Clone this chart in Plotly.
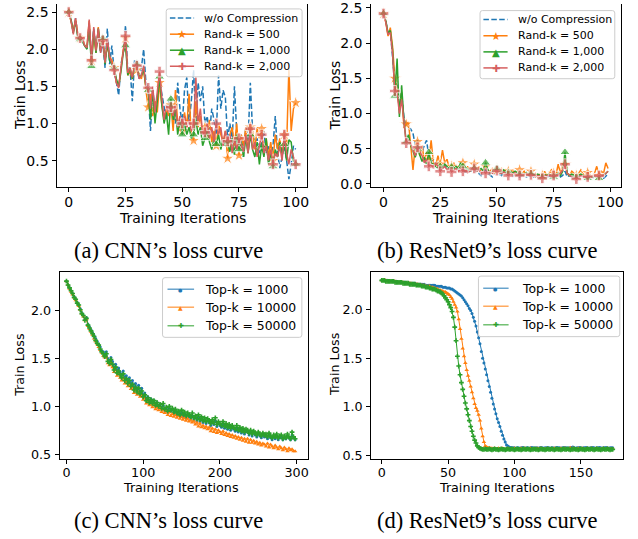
import plotly.graph_objects as go

W, H = 638, 539
BLUE, ORANGE, GREEN, RED = "#1f77b4", "#ff7f0e", "#2ca02c", "#d65f5f"
FONT = "DejaVu Sans"

# ---------------- (a) CNN, Rand-k ----------------
a_labels = ["w/o Compression", "Rand-k = 500", "Rand-k = 1,000", "Rand-k = 2,000"]
a_blue = [2.50, 2.40, 2.22, 2.42, 2.18, 2.15, 2.12, 2.05, 2.00, 2.35,
          1.90, 2.28, 2.00, 2.25, 1.95, 2.10, 1.75, 2.28, 1.80, 2.05,
          1.70, 1.55, 1.38, 1.80, 1.95, 2.32, 1.70, 1.75, 1.30, 1.85,
          1.75, 1.60, 1.75, 2.00, 1.55, 1.45, 0.90, 1.45, 1.20, 1.35,
          1.60, 1.40, 1.20, 1.05, 1.30, 1.20, 1.15, 1.00, 1.55, 1.20,
          1.00, 1.45, 1.62, 1.00, 1.30, 1.72, 1.00, 1.55, 1.30, 1.50,
          1.00, 1.10, 0.85, 1.20, 1.05, 0.85, 1.65, 1.20, 1.45, 1.35,
          0.80, 1.00, 0.75, 1.50, 0.90, 0.60, 0.85, 0.55, 0.95, 0.75,
          1.55, 0.90, 0.70, 0.80, 0.60, 0.75, 0.90, 0.60, 0.70, 0.55,
          0.70, 1.10, 0.60, 0.40, 0.55, 0.70, 0.50, 0.25, 0.45, 0.70,
          0.65]
a_orange = [2.50, 2.38, 2.25, 2.40, 2.20, 2.15, 2.18, 2.05, 2.02, 2.38,
            1.85, 2.20, 1.95, 2.30, 2.00, 2.12, 1.85, 2.05, 1.90, 1.85,
            1.75, 1.55, 1.50, 1.75, 2.00, 2.15, 1.65, 1.70, 1.60, 1.80,
            1.72, 1.65, 1.60, 1.75, 1.45, 1.22, 1.40, 1.10, 1.30, 1.15,
            1.55, 1.25, 1.05, 1.20, 1.10, 1.25, 0.90, 1.45, 1.00, 0.95,
            0.90, 1.15, 0.95, 1.40, 0.85, 0.77, 1.30, 0.95, 1.10, 0.85,
            0.95, 0.80, 1.05, 0.75, 0.90, 0.70, 1.00, 0.85, 0.75, 0.90,
            0.53, 0.85, 0.95, 0.70, 1.00, 0.57, 0.85, 0.70, 0.95, 0.60,
            0.95, 0.90, 0.65, 0.95, 0.80, 0.93, 0.60, 0.80, 0.55, 0.75,
            0.50, 0.85, 0.65, 0.80, 0.55, 0.85, 0.70, 1.75, 0.90, 1.20,
            1.28]
a_green = [2.50, 2.40, 2.22, 2.38, 2.15, 2.14, 2.10, 2.05, 2.00, 2.30,
           1.77, 2.25, 1.95, 2.28, 1.98, 2.15, 1.80, 2.10, 1.85, 1.80,
           1.75, 1.60, 1.50, 1.70, 1.95, 2.05, 1.65, 1.75, 1.60, 1.78,
           1.80, 1.62, 1.65, 1.72, 1.50, 1.45, 1.05, 1.45, 1.00, 1.30,
           1.63, 1.25, 1.00, 1.15, 0.85, 1.33, 1.05, 1.20, 0.85, 1.05,
           0.85, 1.00, 0.85, 0.95, 0.80, 0.85, 1.05, 0.85, 0.95, 0.70,
           0.80, 0.90, 0.75, 0.65, 0.80, 0.72, 0.85, 0.65, 0.80, 0.70,
           0.75, 0.62, 0.80, 0.58, 0.85, 0.65, 0.75, 0.55, 0.80, 0.60,
           0.85, 0.65, 0.55, 0.75, 0.45, 0.70, 0.55, 0.80, 0.45, 0.60,
           0.42, 0.65, 0.55, 0.75, 0.60, 0.72, 0.50, 0.78, 0.75, 0.50,
           0.45]
a_red = [2.50, 2.38, 2.20, 2.42, 2.18, 2.15, 2.15, 2.05, 2.02, 2.40,
         1.85, 2.30, 1.98, 2.28, 1.95, 2.12, 1.82, 2.15, 1.90, 1.82,
         1.72, 1.55, 1.48, 1.75, 2.00, 2.18, 1.68, 1.75, 1.62, 1.80,
         1.78, 1.60, 1.65, 1.78, 1.50, 1.48, 1.20, 1.50, 1.15, 1.40,
         1.70, 1.35, 1.05, 1.25, 1.15, 1.22, 1.10, 1.25, 0.95, 1.10,
         1.00, 1.10, 0.95, 1.05, 0.90, 1.00, 1.62, 1.00, 1.20, 0.85,
         0.88, 1.00, 0.80, 0.95, 0.75, 1.00, 0.85, 0.95, 0.70, 0.90,
         0.76, 0.85, 0.60, 0.80, 0.65, 0.80, 0.70, 0.62, 0.85, 0.60,
         0.93, 0.65, 0.75, 0.55, 0.70, 0.85, 0.60, 0.70, 0.50, 0.65,
         0.45, 0.60, 0.55, 0.70, 0.50, 0.85, 0.60, 0.45, 0.65, 0.55,
         0.45]

# ---------------- (b) ResNet9, Rand-k ----------------
b_blue = [2.42, 2.33, 2.12, 2.18, 1.80, 1.45, 1.40, 1.05, 1.28, 0.95,
          0.85, 0.80, 0.78, 0.72, 0.55, 0.62, 0.50, 0.45, 0.55, 0.62,
          0.38, 0.32, 0.35, 0.28, 0.30, 0.22, 0.25, 0.28, 0.20, 0.22,
          0.18, 0.20, 0.22, 0.18, 0.25, 0.20, 0.18, 0.15, 0.20, 0.18,
          0.22, 0.17, 0.15, 0.12, 0.18, 0.20, 0.15, 0.13, 0.10, 0.15,
          0.18, 0.14, 0.12, 0.15, 0.13, 0.12, 0.14, 0.11, 0.13, 0.12,
          0.10, 0.13, 0.12, 0.10, 0.12, 0.11, 0.10, 0.12, 0.10, 0.09,
          0.10, 0.12, 0.10, 0.11, 0.09, 0.10, 0.12, 0.15, 0.10, 0.12,
          0.18, 0.10, 0.12, 0.10, 0.09, 0.10, 0.11, 0.09, 0.12, 0.10,
          0.09, 0.11, 0.10, 0.08, 0.10, 0.09, 0.10, 0.08, 0.11, 0.15]
b_orange = [2.42, 2.30, 2.10, 2.22, 1.95, 1.50, 1.35, 1.05, 1.30, 0.80,
            0.85, 0.88, 0.55, 0.20, 0.55, 0.60, 0.40, 0.55, 0.32, 0.45,
            0.35, 0.62, 0.30, 0.25, 0.40, 0.28, 0.48, 0.30, 0.35, 0.22,
            0.25, 0.30, 0.20, 0.25, 0.22, 0.30, 0.18, 0.25, 0.20, 0.22,
            0.28, 0.20, 0.25, 0.15, 0.22, 0.25, 0.20, 0.18, 0.22, 0.15,
            0.20, 0.18, 0.22, 0.15, 0.20, 0.18, 0.15, 0.20, 0.12, 0.18,
            0.20, 0.15, 0.18, 0.12, 0.15, 0.18, 0.12, 0.15, 0.10, 0.14,
            0.12, 0.18, 0.12, 0.15, 0.20, 0.15, 0.12, 0.28, 0.15, 0.30,
            0.28, 0.15, 0.12, 0.18, 0.15, 0.12, 0.15, 0.20, 0.14, 0.12,
            0.16, 0.13, 0.10, 0.15, 0.25, 0.12, 0.18, 0.15, 0.30, 0.22]
b_green = [2.42, 2.32, 2.15, 2.18, 1.90, 1.25, 1.78, 0.95, 1.40, 0.90,
           0.60, 0.70, 0.55, 0.45, 0.38, 0.50, 0.42, 0.32, 0.38, 0.28,
           0.45, 0.30, 0.28, 0.25, 0.22, 0.25, 0.22, 0.28, 0.25, 0.22,
           0.24, 0.22, 0.25, 0.22, 0.30, 0.25, 0.20, 0.22, 0.18, 0.20,
           0.22, 0.18, 0.20, 0.22, 0.18, 0.30, 0.20, 0.15, 0.18, 0.20,
           0.22, 0.18, 0.15, 0.20, 0.17, 0.16, 0.18, 0.15, 0.18, 0.16,
           0.14, 0.15, 0.13, 0.16, 0.12, 0.15, 0.13, 0.12, 0.14, 0.12,
           0.10, 0.13, 0.12, 0.14, 0.12, 0.10, 0.13, 0.15, 0.12, 0.18,
           0.45, 0.15, 0.12, 0.14, 0.12, 0.10, 0.12, 0.14, 0.12, 0.10,
           0.08, 0.12, 0.10, 0.11, 0.09, 0.08, 0.10, 0.12, 0.15, 0.18]
b_red = [2.42, 2.30, 2.12, 2.15, 1.85, 1.32, 1.30, 1.00, 1.20, 0.90,
         0.58, 0.62, 0.58, 0.48, 0.40, 0.52, 0.45, 0.40, 0.30, 0.35,
         0.25, 0.28, 0.22, 0.30, 0.25, 0.18, 0.22, 0.25, 0.20, 0.22,
         0.17, 0.20, 0.22, 0.18, 0.22, 0.18, 0.20, 0.16, 0.18, 0.20,
         0.22, 0.18, 0.20, 0.16, 0.18, 0.15, 0.18, 0.17, 0.15, 0.18,
         0.19, 0.16, 0.15, 0.17, 0.14, 0.12, 0.15, 0.14, 0.16, 0.13,
         0.12, 0.14, 0.13, 0.15, 0.12, 0.13, 0.12, 0.10, 0.12, 0.11,
         0.08, 0.12, 0.11, 0.13, 0.10, 0.12, 0.11, 0.13, 0.15, 0.20,
         0.28, 0.15, 0.12, 0.10, 0.09, 0.07, 0.10, 0.12, 0.11, 0.10,
         0.10, 0.12, 0.11, 0.12, 0.10, 0.12, 0.10, 0.12, 0.15, 0.18]

# ---------------- (c) CNN, Top-k (every 2nd iteration) ----------------
cd_labels = ["Top-k = 1000", "Top-k = 10000", "Top-k = 50000"]
c_step = 2
c_blue = [2.31, 2.27, 2.24, 2.21, 2.18, 2.15, 2.12, 2.09, 2.06, 2.02,
          1.98, 1.95, 1.91, 1.93, 1.86, 1.83, 1.80, 1.77, 1.74, 1.71,
          1.68, 1.65, 1.62, 1.58, 1.57, 1.55, 1.57, 1.50, 1.48, 1.51,
          1.47, 1.41, 1.44, 1.38, 1.40, 1.36, 1.33, 1.37, 1.30, 1.32,
          1.27, 1.30, 1.24, 1.27, 1.20, 1.24, 1.18, 1.22, 1.16, 1.19,
          1.12, 1.14, 1.08, 1.10, 1.05, 1.08, 1.04, 1.06, 1.01, 1.04,
          1.00, 1.02, 0.98, 1.01, 0.96, 0.98, 0.94, 0.98, 0.95, 0.97,
          0.93, 0.95, 0.91, 0.94, 0.90, 0.93, 0.89, 0.92, 0.88, 0.91,
          0.89, 0.87, 0.90, 0.86, 0.88, 0.85, 0.88, 0.84, 0.87, 0.83,
          0.86, 0.82, 0.85, 0.83, 0.80, 0.84, 0.81, 0.85, 0.79, 0.82,
          0.80, 0.78, 0.82, 0.77, 0.80, 0.76, 0.79, 0.75, 0.78, 0.76,
          0.74, 0.77, 0.73, 0.76, 0.72, 0.75, 0.71, 0.74, 0.73, 0.70,
          0.73, 0.69, 0.72, 0.70, 0.68, 0.71, 0.69, 0.67, 0.70, 0.68,
          0.69, 0.66, 0.70, 0.67, 0.65, 0.68, 0.66, 0.69, 0.65, 0.67,
          0.68, 0.65, 0.67, 0.66, 0.69, 0.67, 0.65, 0.70, 0.67, 0.65]
c_orange = [2.31, 2.27, 2.23, 2.20, 2.17, 2.14, 2.11, 2.08, 2.05, 2.01,
            1.97, 1.94, 1.90, 1.91, 1.84, 1.81, 1.78, 1.75, 1.71, 1.68,
            1.65, 1.62, 1.59, 1.56, 1.53, 1.51, 1.52, 1.45, 1.43, 1.46,
            1.41, 1.36, 1.38, 1.32, 1.34, 1.30, 1.27, 1.30, 1.24, 1.26,
            1.21, 1.23, 1.18, 1.20, 1.14, 1.17, 1.12, 1.15, 1.10, 1.12,
            1.07, 1.09, 1.03, 1.05, 1.01, 1.03, 0.99, 1.02, 0.97, 0.99,
            0.96, 0.98, 0.94, 0.97, 0.93, 0.95, 0.91, 0.94, 0.90, 0.92,
            0.89, 0.91, 0.88, 0.90, 0.87, 0.89, 0.86, 0.88, 0.85, 0.87,
            0.84, 0.86, 0.83, 0.85, 0.81, 0.83, 0.79, 0.82, 0.78, 0.80,
            0.77, 0.79, 0.76, 0.78, 0.74, 0.77, 0.73, 0.76, 0.72, 0.75,
            0.73, 0.71, 0.74, 0.70, 0.72, 0.69, 0.71, 0.68, 0.70, 0.67,
            0.69, 0.66, 0.68, 0.65, 0.67, 0.64, 0.66, 0.63, 0.66, 0.62,
            0.65, 0.62, 0.64, 0.61, 0.63, 0.60, 0.62, 0.59, 0.61, 0.60,
            0.58, 0.61, 0.57, 0.60, 0.58, 0.56, 0.59, 0.57, 0.55, 0.58,
            0.56, 0.54, 0.57, 0.55, 0.53, 0.56, 0.54, 0.55, 0.53, 0.53]
c_green = [2.31, 2.27, 2.24, 2.21, 2.18, 2.14, 2.12, 2.08, 2.06, 2.01,
           1.97, 1.95, 1.90, 1.92, 1.85, 1.82, 1.79, 1.76, 1.73, 1.69,
           1.66, 1.64, 1.60, 1.57, 1.55, 1.52, 1.55, 1.47, 1.45, 1.49,
           1.44, 1.38, 1.41, 1.35, 1.37, 1.33, 1.30, 1.34, 1.27, 1.29,
           1.24, 1.27, 1.21, 1.23, 1.17, 1.20, 1.15, 1.19, 1.13, 1.16,
           1.10, 1.12, 1.06, 1.09, 1.04, 1.07, 1.03, 1.06, 1.01, 1.04,
           1.00, 1.02, 0.98, 1.03, 0.97, 0.99, 0.95, 1.00, 0.96, 0.98,
           0.94, 0.97, 0.93, 0.95, 0.91, 0.96, 0.92, 0.94, 0.90, 0.93,
           0.91, 0.89, 0.93, 0.88, 0.90, 0.87, 0.91, 0.86, 0.89, 0.85,
           0.88, 0.84, 0.87, 0.85, 0.82, 0.86, 0.83, 0.88, 0.81, 0.84,
           0.82, 0.80, 0.84, 0.79, 0.82, 0.78, 0.81, 0.77, 0.80, 0.78,
           0.76, 0.80, 0.75, 0.78, 0.74, 0.77, 0.73, 0.76, 0.75, 0.72,
           0.75, 0.71, 0.74, 0.72, 0.70, 0.73, 0.71, 0.69, 0.72, 0.70,
           0.71, 0.68, 0.72, 0.69, 0.67, 0.70, 0.68, 0.71, 0.67, 0.69,
           0.70, 0.66, 0.69, 0.67, 0.71, 0.68, 0.66, 0.73, 0.68, 0.66]

# ---------------- (d) ResNet9, Top-k ----------------
d_blue = [2.30, 2.30, 2.30, 2.30, 2.30, 2.29, 2.29, 2.29, 2.29, 2.29,
          2.29, 2.29, 2.28, 2.28, 2.28, 2.28, 2.28, 2.28, 2.28, 2.27,
          2.27, 2.27, 2.27, 2.27, 2.27, 2.27, 2.26, 2.26, 2.26, 2.26,
          2.26, 2.26, 2.26, 2.25, 2.25, 2.25, 2.25, 2.25, 2.25, 2.25,
          2.25, 2.24, 2.24, 2.24, 2.24, 2.24, 2.23, 2.23, 2.23, 2.22,
          2.22, 2.22, 2.21, 2.21, 2.20, 2.19, 2.18, 2.17, 2.16, 2.15,
          2.14, 2.12, 2.10, 2.08, 2.06, 2.04, 2.01, 1.99, 1.96, 1.92,
          1.88, 1.83, 1.77, 1.71, 1.65, 1.57, 1.50, 1.45, 1.39, 1.33,
          1.27, 1.21, 1.15, 1.09, 1.03, 0.98, 0.93, 0.88, 0.84, 0.80,
          0.75, 0.71, 0.67, 0.64, 0.61, 0.60, 0.59, 0.585, 0.58, 0.58,
          0.58, 0.575, 0.58, 0.58, 0.575, 0.58, 0.585, 0.58, 0.575, 0.58,
          0.58, 0.575, 0.58, 0.585, 0.58, 0.575, 0.58, 0.58, 0.575, 0.58,
          0.585, 0.58, 0.575, 0.58, 0.58, 0.585, 0.58, 0.575, 0.58, 0.58,
          0.575, 0.58, 0.585, 0.58, 0.58, 0.575, 0.58, 0.58, 0.585, 0.58,
          0.575, 0.58, 0.58, 0.585, 0.59, 0.58, 0.575, 0.58, 0.58, 0.585,
          0.58, 0.575, 0.58, 0.58, 0.585, 0.58, 0.575, 0.58, 0.58, 0.585,
          0.58, 0.575, 0.58, 0.58, 0.585, 0.58, 0.575, 0.58, 0.58, 0.585,
          0.58, 0.575, 0.58, 0.58, 0.58]
d_orange = [2.30, 2.30, 2.30, 2.30, 2.29, 2.29, 2.29, 2.29, 2.29, 2.29,
            2.29, 2.28, 2.28, 2.28, 2.28, 2.28, 2.28, 2.27, 2.27, 2.27,
            2.27, 2.27, 2.27, 2.26, 2.26, 2.26, 2.26, 2.26, 2.25, 2.25,
            2.25, 2.25, 2.25, 2.24, 2.24, 2.24, 2.24, 2.23, 2.23, 2.22,
            2.22, 2.21, 2.21, 2.20, 2.20, 2.19, 2.19, 2.18, 2.18, 2.17,
            2.16, 2.15, 2.13, 2.11, 2.08, 2.05, 2.02, 1.98, 1.90, 1.80,
            1.70, 1.60, 1.52, 1.45, 1.38, 1.32, 1.27, 1.21, 1.15, 1.09,
            1.03, 0.99, 0.96, 0.92, 0.86, 0.78, 0.70, 0.64, 0.60, 0.59,
            0.58, 0.58, 0.575, 0.575, 0.57, 0.575, 0.57, 0.57, 0.575, 0.57,
            0.57, 0.575, 0.57, 0.565, 0.57, 0.575, 0.57, 0.57, 0.565, 0.57,
            0.575, 0.57, 0.57, 0.565, 0.57, 0.575, 0.57, 0.57, 0.575, 0.57,
            0.565, 0.57, 0.575, 0.57, 0.57, 0.565, 0.57, 0.575, 0.57, 0.57,
            0.575, 0.57, 0.565, 0.57, 0.57, 0.575, 0.57, 0.57, 0.565, 0.57,
            0.575, 0.57, 0.57, 0.565, 0.57, 0.575, 0.57, 0.57, 0.575, 0.57,
            0.565, 0.57, 0.58, 0.57, 0.575, 0.57, 0.565, 0.57, 0.575, 0.57,
            0.57, 0.575, 0.57, 0.565, 0.57, 0.575, 0.57, 0.57, 0.575, 0.57,
            0.565, 0.57, 0.575, 0.57, 0.57, 0.565, 0.57, 0.575, 0.57, 0.57,
            0.575, 0.57, 0.565, 0.57, 0.57]
d_green = [2.30, 2.30, 2.30, 2.29, 2.29, 2.29, 2.29, 2.29, 2.29, 2.29,
           2.28, 2.28, 2.28, 2.28, 2.28, 2.28, 2.27, 2.27, 2.27, 2.27,
           2.27, 2.26, 2.26, 2.26, 2.26, 2.26, 2.25, 2.25, 2.25, 2.25,
           2.24, 2.24, 2.24, 2.23, 2.23, 2.23, 2.22, 2.22, 2.21, 2.21,
           2.21, 2.20, 2.19, 2.19, 2.18, 2.17, 2.16, 2.14, 2.12, 2.10,
           2.08, 2.05, 2.02, 1.98, 1.92, 1.82, 1.68, 1.52, 1.42, 1.33,
           1.25, 1.18, 1.11, 1.04, 0.98, 0.92, 0.86, 0.80, 0.75, 0.70,
           0.66, 0.63, 0.60, 0.585, 0.575, 0.57, 0.565, 0.565, 0.57, 0.565,
           0.565, 0.57, 0.565, 0.56, 0.565, 0.57, 0.565, 0.565, 0.56, 0.565,
           0.57, 0.565, 0.565, 0.56, 0.565, 0.57, 0.565, 0.565, 0.57, 0.565,
           0.56, 0.565, 0.57, 0.565, 0.565, 0.56, 0.565, 0.57, 0.565, 0.565,
           0.57, 0.565, 0.56, 0.565, 0.565, 0.57, 0.565, 0.565, 0.56, 0.565,
           0.57, 0.565, 0.565, 0.56, 0.565, 0.57, 0.565, 0.565, 0.57, 0.565,
           0.56, 0.565, 0.57, 0.565, 0.565, 0.56, 0.565, 0.57, 0.565, 0.565,
           0.57, 0.565, 0.56, 0.565, 0.565, 0.57, 0.565, 0.565, 0.56, 0.565,
           0.57, 0.565, 0.565, 0.56, 0.565, 0.57, 0.565, 0.565, 0.57, 0.565,
           0.56, 0.565, 0.57, 0.565, 0.565, 0.56, 0.565, 0.57, 0.565, 0.565,
           0.57, 0.565, 0.56, 0.565, 0.565]

captions = ["(a) CNN\u2019s loss curve", "(b) ResNet9\u2019s loss curve",
            "(c) CNN\u2019s loss curve", "(d) ResNet9\u2019s loss curve"]


def px(x):
    return x / W


def py(y):
    return 1 - y / H


fig = go.Figure()

# ---- panels (a) and (b): markers every 5 iterations ----
ab_styles = [
    dict(color=BLUE, dash="5.5px,2.4px", symbol=None, size=0, glyph=None, gsize=0),
    dict(color=ORANGE, dash="solid", symbol="star", size=10, glyph="\u2605", gsize=11),
    dict(color=GREEN, dash="solid", symbol="triangle-up", size=9, glyph="\u25B2", gsize=10),
    dict(color=RED, dash="solid", symbol="cross", size=9, glyph="\u271A", gsize=10),
]
for series, xa, ya in [((a_blue, a_orange, a_green, a_red), "x", "y"),
                       ((b_blue, b_orange, b_green, b_red), "x2", "y2")]:
    for ys, st, name in zip(series, ab_styles, a_labels):
        xs = list(range(len(ys)))
        if st["symbol"] is None:
            fig.add_trace(go.Scatter(x=xs, y=ys, mode="lines", xaxis=xa, yaxis=ya,
                                     line=dict(color=st["color"], width=1.5, dash=st["dash"]),
                                     name=name, showlegend=False))
            continue
        sizes = [st["size"] if i % 5 == 0 else 0 for i in range(len(ys))]
        fig.add_trace(go.Scatter(x=xs, y=ys, mode="lines+markers", xaxis=xa, yaxis=ya,
                                 line=dict(color=st["color"], width=1.5),
                                 marker=dict(symbol=st["symbol"], size=sizes, color=st["color"]),
                                 name=name, showlegend=False))

# ---- panels (c) and (d) ----
cd_styles = [
    dict(color=BLUE, symbol="circle", size=3, glyph="\u25CF", gsize=5),
    dict(color=ORANGE, symbol="triangle-up", size=4, glyph="\u25B2", gsize=6),
    dict(color=GREEN, symbol="cross", size=4, glyph="\u271A", gsize=7),
]
for series, step, xa, ya in [((c_blue, c_orange, c_green), c_step, "x3", "y3"),
                             ((d_blue, d_orange, d_green), 1, "x4", "y4")]:
    for ys, st, name in zip(series, cd_styles, cd_labels):
        xs = [i * step for i in range(len(ys))]
        fig.add_trace(go.Scatter(x=xs, y=ys, mode="lines+markers", xaxis=xa, yaxis=ya,
                                 line=dict(color=st["color"], width=1),
                                 marker=dict(symbol=st["symbol"], size=st["size"], color=st["color"]),
                                 name=name, showlegend=False))


def axis(domain, rng, tickvals, anchor, size, mirror=True, fmt=None, standoff=0):
    d = dict(domain=domain, range=rng, tickvals=tickvals, anchor=anchor,
             showline=True, linecolor="black", linewidth=1, mirror=mirror,
             ticks="outside", ticklen=4, tickwidth=1, tickcolor="black",
             showgrid=False, zeroline=False, fixedrange=True,
             ticklabelstandoff=standoff, ticklabeloverflow="allow",
             tickfont=dict(family=FONT, size=size, color="black"))
    if fmt:
        d["tickformat"] = fmt
    return d


fig.update_layout(
    xaxis=axis([px(57.7), px(308.5)], [-5, 105], [0, 25, 50, 75, 100], "y", 14, mirror=False, standoff=-2),
    yaxis=axis([py(186), 1], [0.146, 2.61], [0.5, 1.0, 1.5, 2.0, 2.5], "x", 14, fmt=".1f", standoff=1),
    xaxis2=axis([px(373), px(623.5)], [-5.4, 104.5], [0, 25, 50, 75, 100], "y2", 14, mirror=False, standoff=-2),
    yaxis2=axis([py(186), 1], [-0.042, 2.556], [0, 0.5, 1.0, 1.5, 2.0, 2.5], "x2", 14, fmt=".1f", standoff=1),
    xaxis3=axis([px(60), px(309)], [-8.8, 314.2], [0, 100, 200, 300], "y3", 12.7, standoff=-2),
    yaxis3=axis([py(462.7), py(273)], [0.449, 2.401], [0.5, 1.0, 1.5, 2.0], "x3", 12.7, fmt=".1f", standoff=1),
    xaxis4=axis([px(373), px(626)], [-7.9, 181.8], [0, 50, 100, 150], "y4", 12.7, standoff=-2),
    yaxis4=axis([py(462.7), py(273)], [0.466, 2.381], [0.5, 1.0, 1.5, 2.0], "x4", 12.7, fmt=".1f", standoff=1),
)

# ---- hand-drawn legends (box, line sample, marker glyph, label) ----
shapes = []
annotations = []


def add_legend(box, rows, line_x, text_x, styles, labels, fsize):
    x0, x1, y0, y1 = box
    rx, ry = 2.5 / W, 2.5 / H
    X0, X1, Y0, Y1 = px(x0), px(x1), py(y0), py(y1)
    path = (f"M {X0+rx},{Y0} L {X1-rx},{Y0} Q {X1},{Y0} {X1},{Y0-ry} "
            f"L {X1},{Y1+ry} Q {X1},{Y1} {X1-rx},{Y1} L {X0+rx},{Y1} Q {X0},{Y1} {X0},{Y1+ry} "
            f"L {X0},{Y0-ry} Q {X0},{Y0} {X0+rx},{Y0} Z")
    shapes.append(dict(type="path", path=path, xref="paper", yref="paper", layer="above",
                       fillcolor="rgba(255,255,255,0.8)", line=dict(color="#cccccc", width=1)))
    cx = (line_x[0] + line_x[1]) / 2
    for ry_, st, lab in zip(rows, styles, labels):
        shapes.append(dict(type="line", xref="paper", yref="paper", layer="above",
                           x0=px(line_x[0]), x1=px(line_x[1]), y0=py(ry_), y1=py(ry_),
                           line=dict(color=st["color"], width=st.get("lw", 1.5),
                                     dash=st.get("dash", "solid"))))
        if st.get("glyph"):
            annotations.append(dict(text=st["glyph"], x=px(cx), y=py(ry_ + 0.5), xref="paper", yref="paper",
                                    showarrow=False, xanchor="center", yanchor="middle",
                                    font=dict(family=FONT, size=st["gsize"], color=st["color"])))
        annotations.append(dict(text=lab, x=px(text_x), y=py(ry_), xref="paper", yref="paper",
                                showarrow=False, xanchor="left", yanchor="middle",
                                font=dict(family=FONT, size=fsize, color="black")))


add_legend((167, 303.5, 5, 74), [14.3, 30.7, 47, 63.3], (170.7, 195), 202.5,
           ab_styles, a_labels, 11)
add_legend((482.3, 617.7, 6.7, 76), [15.7, 32.3, 48.7, 65], (485.7, 510), 518,
           ab_styles, a_labels, 11)
cd_leg = [dict(s, lw=1) for s in cd_styles]
add_legend((163.3, 303.3, 278.3, 339), [290, 308.3, 327.3], (168.3, 195), 204,
           cd_leg, cd_labels, 12.4)
add_legend((480.7, 622.7, 276.7, 338.3), [289, 307.3, 326.3], (485.5, 511), 522,
           cd_leg, cd_labels, 12.4)

for (x, y, s) in [(20.7, 93, 14), (336.7, 93, 14), (20, 367, 12.7), (336.7, 367, 12.7)]:
    annotations.append(dict(text="Train Loss", x=px(x), y=py(y), xref="paper", yref="paper",
                            showarrow=False, textangle=-90, xanchor="center", yanchor="middle",
                            font=dict(family=FONT, size=s, color="black")))
for (x, y, s) in [(183.3, 217.5, 14), (498.3, 217.5, 14), (182, 492, 12.7), (499.5, 492, 12.7)]:
    annotations.append(dict(text="Training Iterations", x=px(x), y=py(y), xref="paper", yref="paper",
                            showarrow=False, xanchor="center", yanchor="middle",
                            font=dict(family=FONT, size=s, color="black")))
for (x, y), cap in zip([(169, 251), (490, 251), (169, 525), (490, 525)], captions):
    annotations.append(dict(text=cap, x=px(x), y=py(y), xref="paper", yref="paper",
                            showarrow=False, xanchor="center", yanchor="middle",
                            font=dict(family="Liberation Serif", size=22.5, color="black")))

fig.update_layout(
    shapes=shapes,
    annotations=annotations,
    width=W, height=H, autosize=False,
    margin=dict(l=0, r=0, t=0, b=0),
    paper_bgcolor="white", plot_bgcolor="white",
    showlegend=False,
)

fig.write_html("out.html", config={"displayModeBar": False},
               post_script="document.body.style.margin='0';document.body.style.overflow='hidden';")
